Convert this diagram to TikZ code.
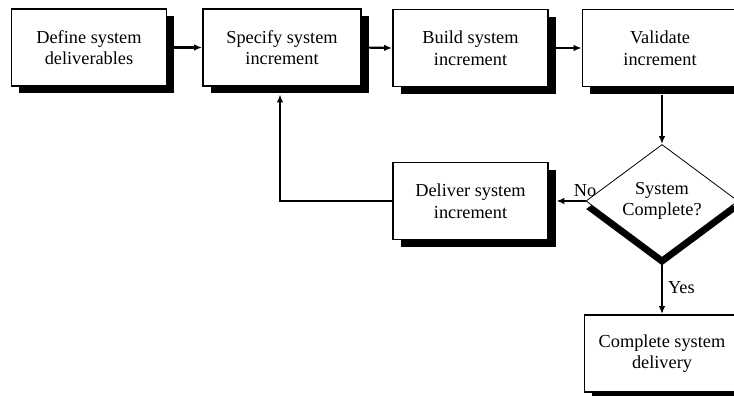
\documentclass[tikz,border=0pt]{standalone}
\usepackage{fontspec}
\setmainfont{Liberation Serif}
\usetikzlibrary{arrows.meta,shapes.geometric,shadows}

\tikzset{
  stepbox/.style={draw=black, line width=1.8pt, fill=white,
    minimum width=155pt, minimum height=77pt, inner sep=0pt,
    align=center, font=\fontsize{18.3}{21.5}\selectfont,
    drop shadow={shadow xshift=7.5pt, shadow yshift=-7.5pt, opacity=1, fill=black}},
  decision/.style={draw=black, line width=0.8pt, fill=white, shape=diamond,
    minimum width=152pt, minimum height=113pt, aspect=1.345, inner sep=0pt,
    align=center, font=\fontsize{18.3}{21.5}\selectfont,
    drop shadow={shadow xshift=0pt, shadow yshift=-8pt, opacity=1, fill=black}},
  flow/.style={line width=2.2pt, -{Latex[length=8pt,width=6.5pt]}},
  lbl/.style={font=\fontsize{18.3}{21.5}\selectfont, inner sep=0pt}
}

\begin{document}
\begin{tikzpicture}[x=1pt, y=-1pt]
  \useasboundingbox (0,0) rectangle (734,396);
  \clip (0,0) rectangle (734,396);

  % process steps
  \node[stepbox] (define)   at (89,47.5)  {Define system\\deliverables};
  \node[stepbox, minimum width=158pt] (specify) at (282,47.5) {Specify system\\increment};
  \node[stepbox] (build)    at (470.5,48) {Build system\\increment};
  \node[stepbox] (validate) at (660,48)   {Validate\\increment};
  \node[decision] (done)    at (662,201)  {System\\Complete?};
  \node[stepbox] (deliver)  at (470.5,201) {Deliver system\\increment};
  \node[stepbox] (final)    at (662,353.5) {Complete system\\delivery};

  % forward flow
  \draw[flow] (define.east) -- (specify.west);
  \draw[flow] (specify.east) -- (build.west);
  \draw[flow] (build.east) -- (validate.west);
  \draw[flow] ([yshift=-7.5pt]validate.south -| done.north) -- (done.north);

  % decision branches
  \draw[flow] (done.west) -- ([xshift=7.5pt]deliver.east)
    node[lbl, pos=0.5, above=3pt, xshift=14pt] (no) {No};
  \draw[flow] (done.south) -- (final.north)
    node[lbl, pos=0.5, right=5pt, yshift=-2pt] (yes) {Yes};

  % loop back to the next increment
  \coordinate (loopcorner) at ([xshift=-2pt]specify.south |- deliver.west);
  \draw[flow] (deliver.west) -- (loopcorner) -- ([xshift=-2pt,yshift=-7.5pt]specify.south);
\end{tikzpicture}
\end{document}
